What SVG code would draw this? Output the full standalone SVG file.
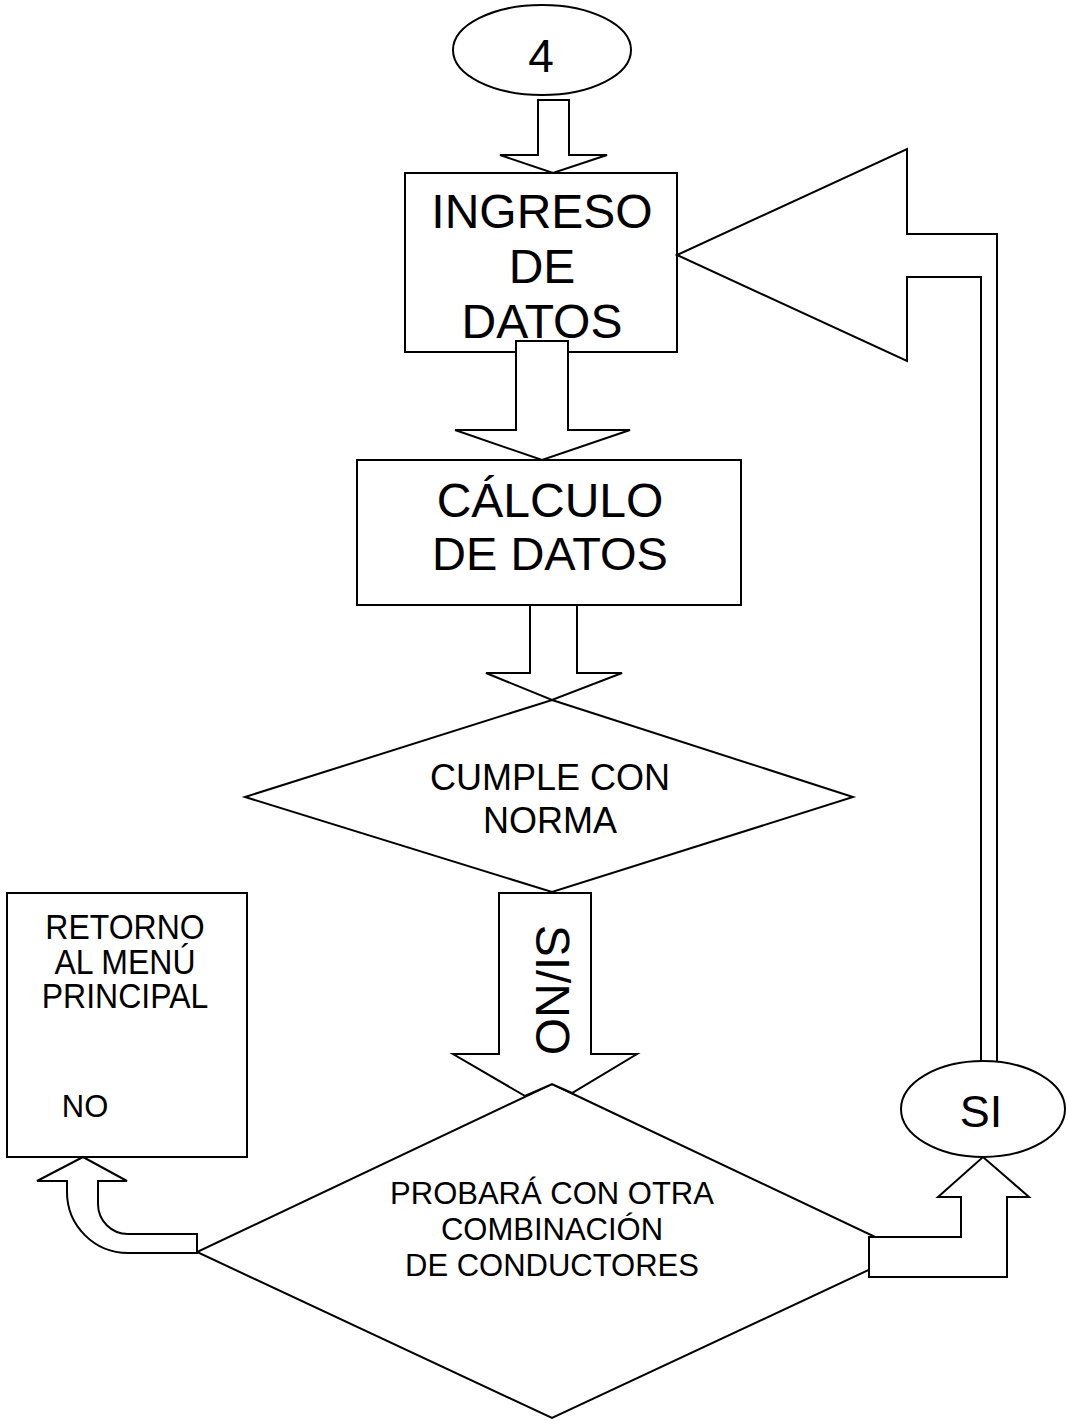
<svg xmlns="http://www.w3.org/2000/svg" width="1068" height="1424" viewBox="0 0 1068 1424">
  <style>
    .shape { fill: #ffffff; stroke: #000000; stroke-width: 2; stroke-linejoin: miter; }
    .line { fill: none; stroke: #000000; stroke-width: 2; }
    text { font-family: "Liberation Sans", Arial, sans-serif; fill: #000000; text-anchor: middle; }
    .big { font-size: 48px; }
    .calc { font-size: 47px; }
    .mid { font-size: 36px; }
    .small { font-size: 31px; }
    .menu { font-size: 32px; }
  </style>
  <rect x="0" y="0" width="1068" height="1424" fill="#ffffff"/>

  <!-- Start connector "4" -->
  <g id="start">
    <ellipse class="shape" cx="542" cy="50" rx="89" ry="45"/>
    <text x="541" y="72" style="font-size:46px">4</text>
  </g>

  <!-- Data input -->
  <g id="ingreso">
    <rect class="shape" x="405" y="173" width="272" height="179"/>
    <text class="big" x="542" y="228">INGRESO</text>
    <text class="big" x="542" y="283">DE</text>
    <text class="big" x="542" y="338">DATOS</text>
  </g>

  <!-- Calculation -->
  <g id="calculo">
    <rect class="shape" x="357" y="460" width="384" height="145"/>
    <text class="big" x="550" y="517">CÁLCULO</text>
    <text class="calc" x="550" y="570">DE DATOS</text>
  </g>

  <!-- First decision -->
  <g id="cumple">
    <polygon class="shape" points="552,700 853,797 552,892 245,797"/>
    <text class="mid" x="550" y="790">CUMPLE CON</text>
    <text class="mid" x="550" y="833">NORMA</text>
  </g>

  <!-- Return to main menu -->
  <g id="retorno">
    <rect class="shape" x="7" y="893" width="240" height="264"/>
    <text class="menu" transform="translate(125,939) scale(1,1.12)">RETORNO</text>
    <text class="menu" transform="translate(125,974) scale(1,1.12)">AL MENÚ</text>
    <text class="menu" transform="translate(125,1008) scale(1,1.12)">PRINCIPAL</text>
    <text x="85" y="1117" style="font-size:31px">NO</text>
  </g>

  <!-- Second decision -->
  <g id="probara">
    <polygon class="shape" points="552,1084 907,1252 552,1418 197,1252"/>
    <text class="small" x="552" y="1204">PROBARÁ CON OTRA</text>
    <text class="small" x="552" y="1240">COMBINACIÓN</text>
    <text class="small" x="552" y="1276">DE CONDUCTORES</text>
  </g>

  <!-- "SI" connector -->
  <g id="si">
    <ellipse class="shape" cx="983" cy="1109" rx="82" ry="48"/>
    <text x="981" y="1127" style="font-size:45px">SI</text>
  </g>

  <!-- Block arrows between the steps -->
  <g id="connectors">
    <polygon class="shape" points="538,100 569,100 569,155 607,155 553,173 500,155 538,155"/>
    <polygon class="shape" points="516,341 568,341 568,430 630,430 542,460 455,430 516,430"/>
    <polygon class="shape" points="530,605 577,605 577,673 622,673 552,700 486,673 530,673"/>
    <g id="si-no-arrow">
      <path class="shape" d="M499,893 L591,893 L591,1054 L637,1054 L572,1093 L552,1084 L525,1096 L453,1054 L499,1054 Z"/>
      <text transform="translate(536,990) rotate(90)" style="font-size:48px">SI/NO</text>
    </g>
    <path class="shape" d="M197,1234 L128,1234 A30,30 0 0 1 98,1204 L98,1181 L127,1181 L83,1157 L37,1181 L67,1181 L67,1192 A61,61 0 0 0 128,1253 L197,1253 Z"/>
    <path class="shape" d="M869,1237 L961,1237 L961,1197 L938,1197 L983,1157 L1029,1197 L1007,1197 L1007,1277 L869,1277 Z"/>
    <path class="line" d="M997,1061 L997,234 L907,234 L907,149 L677,255 L907,361 L907,277 L981,277 L981,1061"/>
  </g>
</svg>
